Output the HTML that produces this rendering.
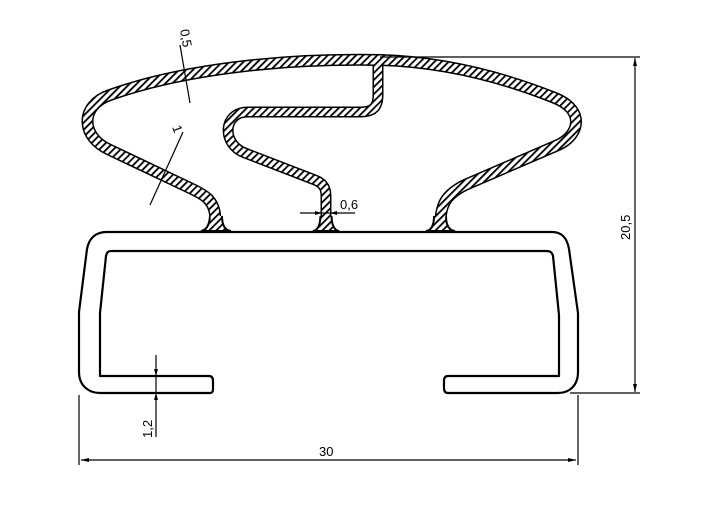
<!DOCTYPE html>
<html><head><style>body{margin:0;background:#fff}svg{display:block}</style></head><body>
<svg width="714" height="509" viewBox="0 0 714 509" xmlns="http://www.w3.org/2000/svg" font-family="Liberation Sans, sans-serif">
<defs>
<pattern id="h" width="5" height="5" patternUnits="userSpaceOnUse" patternTransform="rotate(45)">
<rect width="5" height="5" fill="#fff"/><rect width="1.8" height="5" fill="#000"/>
</pattern>
<path id="outer" d="M216,229 L215,214 C213,200 205,195 190,188 L110,150 C80,137 80,105 110,95 C180,70 280,58 380,60 C450,62 510,80 555,98 C585,110 580,135 558,145 L465,185 C445,195 440,205 440,229"/>
<path id="mid" d="M378,62 L378,95 C378,108 372,112 360,112 L248,112 C222,112 222,145 245,153 L315,180 C323,183 326,188 326,196 L326,229"/>
<path id="f1" d="M210,216 Q209,230 201,231 L231,231 Q222,230 222,216"/>
<path id="f2" d="M320.5,216 Q320,230 313,231 L339,231 Q332,230 331.5,216"/>
<path id="f3" d="M434,216 Q434,230 426,231 L455,231 Q446,230 446,216"/>
</defs>
<g fill="none" stroke-linejoin="round" stroke="#000">
<use href="#outer" stroke-width="12"/>
<use href="#mid" stroke-width="11"/>
</g>
<g fill="url(#h)" stroke="#000" stroke-width="2">
<use href="#f1"/><use href="#f2"/><use href="#f3"/>
</g>
<g fill="none" stroke-linejoin="round" stroke="url(#h)">
<use href="#outer" stroke-width="9"/>
<use href="#mid" stroke-width="8"/>
</g>
<!-- channel -->
<g fill="none" stroke="#000" stroke-width="2.2" stroke-linejoin="round">
<path d="M210,393 L100,393 C88,393 79,385 79,372 L79,312 L87,249 C89,238 96,232 107,232 L552,232 C562,232 567,238 569,249 L578,313 L578,372 C578,385 570,393 558,393 L448,393 C445,393 444,391 444,388 L444,381 C444,378 445,376 448,376 L559,376 L559,315 L553,256 C552,252 550,251 546,251 L112,251 C108,251 107,252 106,256 L100,313 L100,376 L209,376 C212,376 213,378 213,381 L213,389 C213,392 212,393 210,393 Z"/>
</g>
<!-- dimensions -->
<g stroke="#000" stroke-width="1.2" fill="none">
<line x1="380" y1="57" x2="640" y2="57"/>
<line x1="570" y1="393" x2="640" y2="393"/>
<line x1="635" y1="58" x2="635" y2="392"/>
<line x1="79" y1="395" x2="79" y2="465"/>
<line x1="578" y1="395" x2="578" y2="465"/>
<line x1="81" y1="460" x2="576" y2="460"/>
<line x1="156" y1="355" x2="156" y2="437"/>
<line x1="300" y1="213" x2="355" y2="213"/>
<line x1="180" y1="45" x2="190" y2="103"/>
<line x1="183" y1="132" x2="150" y2="205"/>
</g>
<g fill="#000">
<path d="M81,460 l8,-2 v4z M576,460 l-8,-2 v4z M635,58 l-2,8 h4z M635,392 l-2,-8 h4z M156,376 l-2,-7 h4z M156,393 l-2,7 h4z M322,213 l-7,-2 v4z M330,213 l7,-2 v4z"/>
</g>
<g font-size="13" fill="#000">
<text x="319" y="456">30</text>
<text x="340" y="209">0,6</text>
<text transform="translate(630,240) rotate(-90)">20,5</text>
<text transform="translate(152,438) rotate(-90)">1,2</text>
<text transform="translate(180,30) rotate(80)">0,5</text>
<text transform="translate(172,127) rotate(70)">1</text>
</g>
</svg>
</body></html>
